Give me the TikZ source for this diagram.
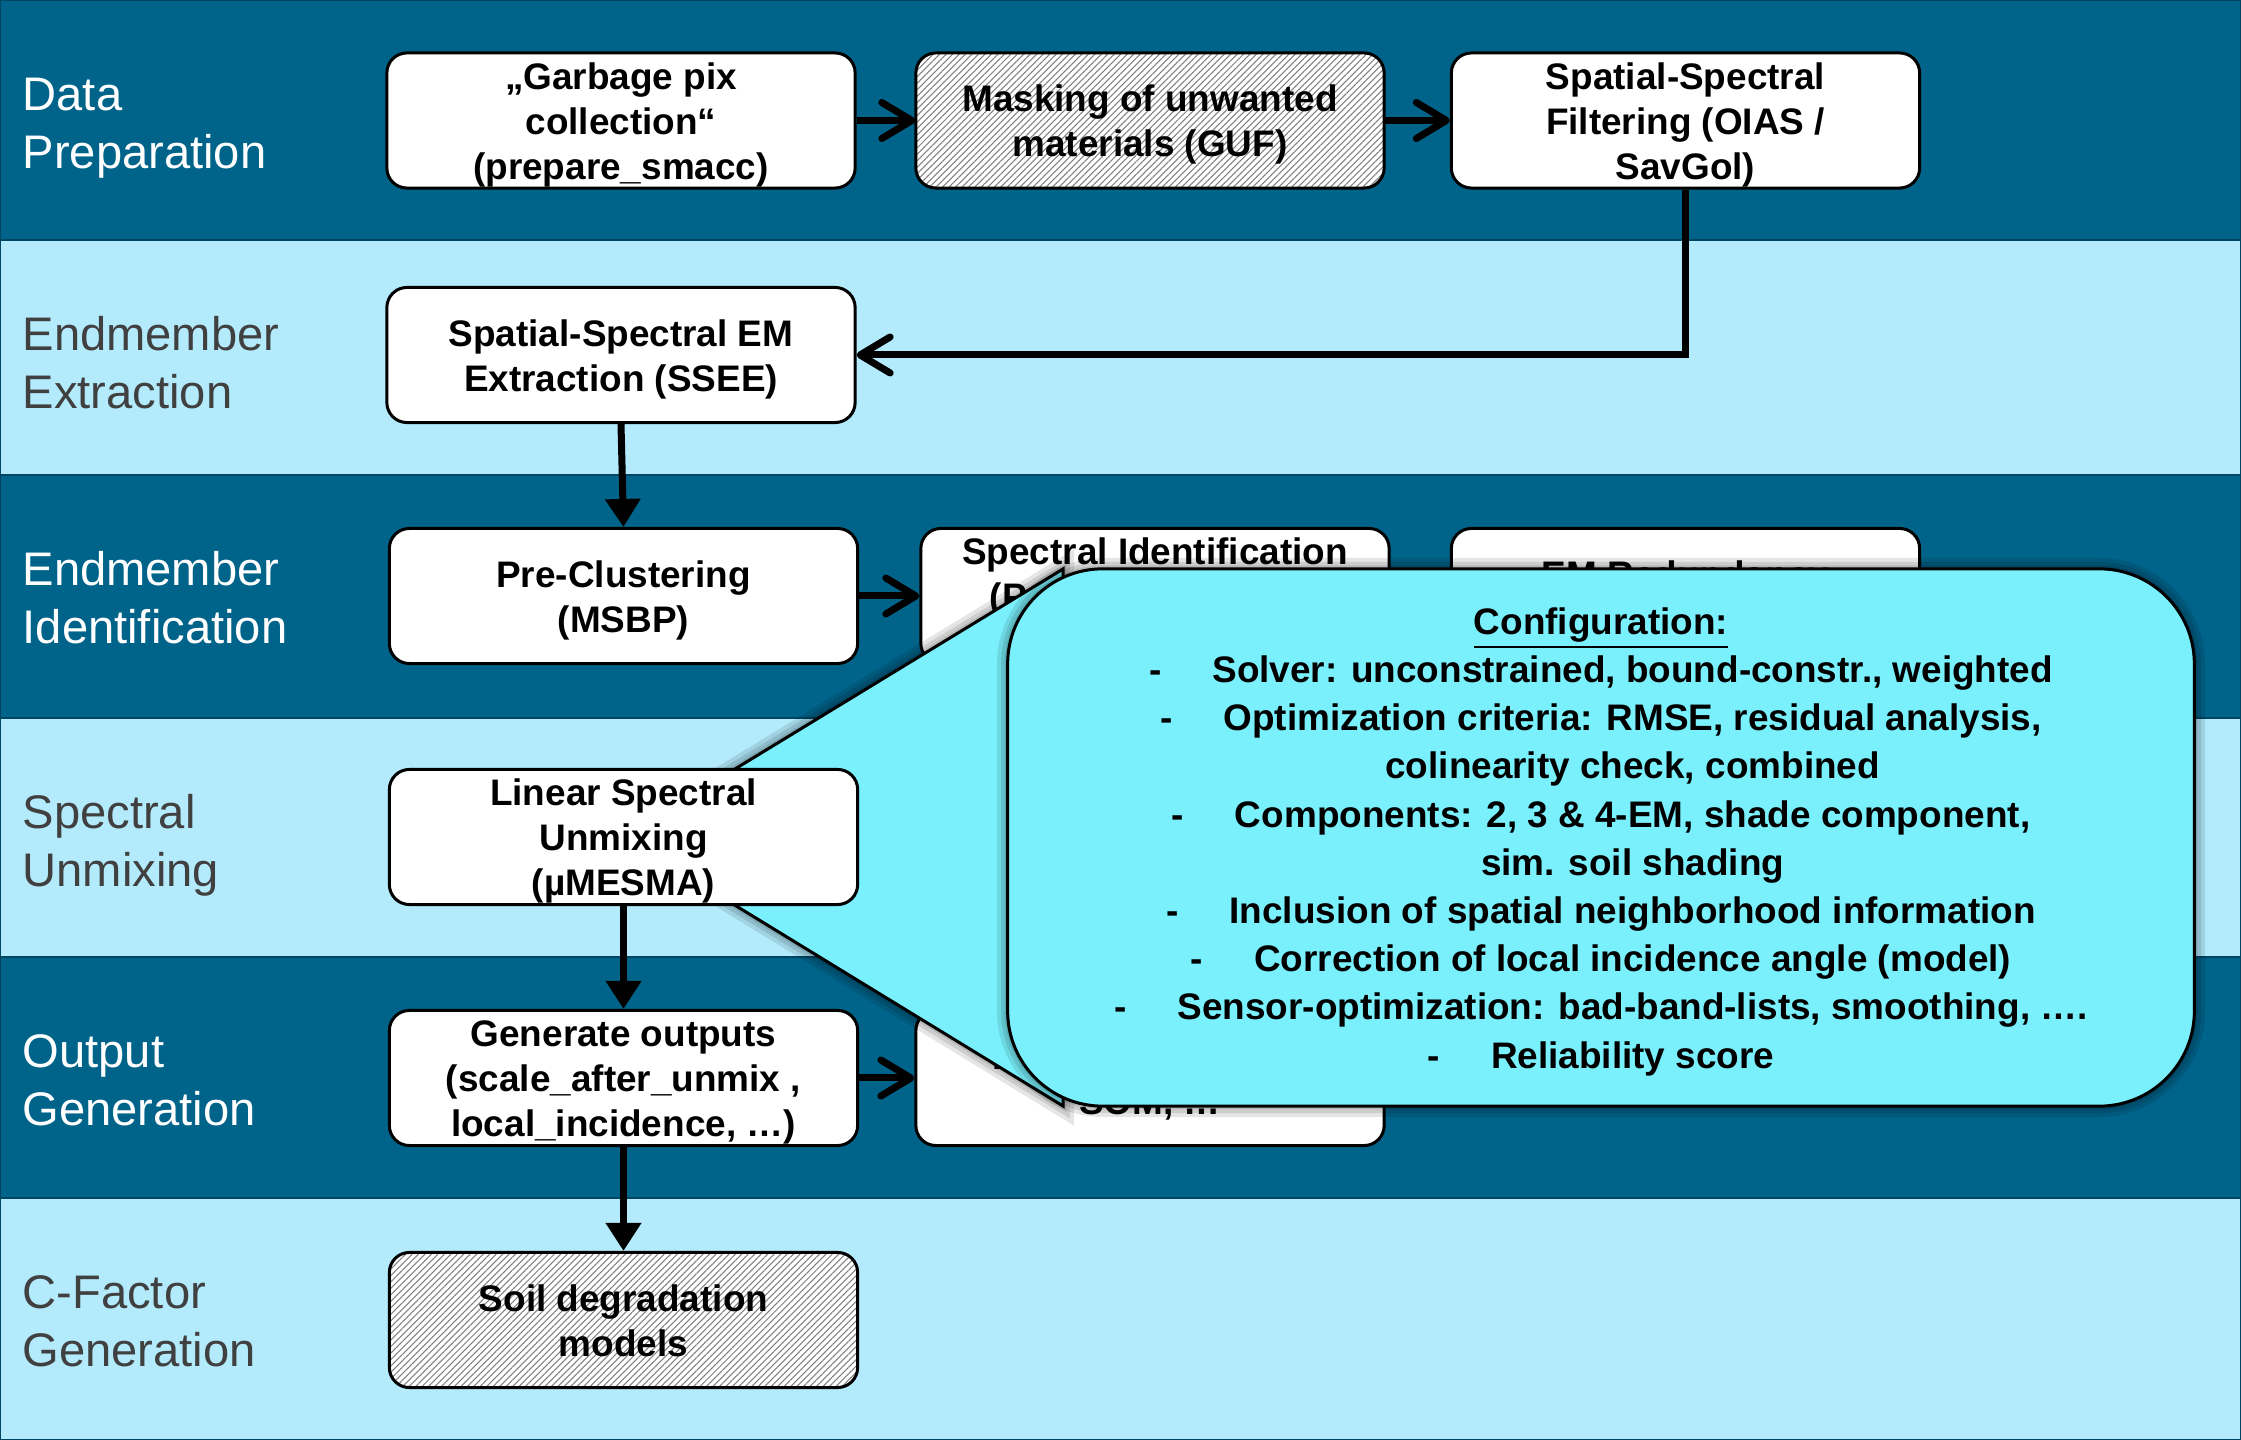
\documentclass[tikz,border=0pt]{standalone}
\usepackage{fontspec}
\setmainfont{Liberation Sans}
\usetikzlibrary{arrows.meta,patterns.meta}

\definecolor{banddark}{RGB}{0,99,137}
\definecolor{bandlight}{RGB}{179,234,252}
\definecolor{bandline}{RGB}{0,70,98}
\definecolor{labelgray}{RGB}{64,64,64}
\definecolor{calloutfill}{RGB}{122,240,252}

% configuration bullet lines: dash, gap, text; continuation lines keep the indent
\newcommand\cfgitem[1]{-\hspace{0.51cm}#1}
\newcommand\cfgcont[1]{\phantom{-}\hspace{0.51cm}#1}
% fixed first-line height and last-line depth, so box texts sit alike
\newcommand\fs{\rule{0pt}{10.1pt}}
\newcommand\ls{\rule[-2.4pt]{0pt}{0pt}}

\pgfdeclarelayer{front}
\pgfsetlayers{main,front}

\begin{document}
\begin{tikzpicture}[x=0.01cm, y=-0.01cm,
  band/.style={draw=bandline, line width=0.025cm},
  lane/.style={anchor=west, align=left, inner sep=0pt,
    font=\fontsize{13.4}{16.5}\selectfont},
  box/.style={draw=black, line width=0.03cm, fill=white, rounded corners=0.2cm,
    minimum width=4.68cm, minimum height=1.35cm, align=center, inner sep=0pt,
    font=\bfseries\fontsize{10.5}{12.8}\selectfont},
  hatched/.style={box, preaction={fill=white},
    pattern={Lines[angle=45,distance=1.3pt,line width=0.3pt]}, pattern color=black!50},
  flow/.style={line width=0.07cm},
  barb/.style={flow, -{Straight Barb[round,length=0.3cm,width=0.36cm]}},
  tri/.style={flow, -{Triangle[length=0.28cm,width=0.34cm]}},
  glow/.style={draw=black, draw opacity=0.1, line width=#1},
  callout/.style={draw=black, line width=0.03cm, fill=calloutfill}
]
\useasboundingbox (0,0) rectangle (2241,1440);

% swim lanes
\draw[band, fill=banddark]  (0,0)    rectangle (2241,240);
\draw[band, fill=bandlight] (0,240)  rectangle (2241,475);
\draw[band, fill=banddark]  (0,475)  rectangle (2241,718);
\draw[band, fill=bandlight] (0,718)  rectangle (2241,957);
\draw[band, fill=banddark]  (0,957)  rectangle (2241,1198);
\draw[band, fill=bandlight] (0,1198) rectangle (2241,1440);

\node[lane, text=white]     (lab1) at (22,128)  {\strut Data\\\strut Preparation};
\node[lane, text=labelgray] (lab2) at (22,368)  {\strut Endmember\\\strut Extraction};
\node[lane, text=white]     (lab3) at (22,603)  {\strut Endmember\\\strut Identification};
\node[lane, text=labelgray] (lab4) at (22,846)  {\strut Spectral\\\strut Unmixing};
\node[lane, text=white]     (lab5) at (22,1085) {\strut Output\\\strut Generation};
\node[lane, text=labelgray] (lab6) at (22,1326) {\strut C-Factor\\\strut Generation};

% process steps
\node[box]     (gp)   at (621,120.5)  {\fs„Garbage pix\\collection“\\(prepare\_smacc)\ls};
\node[hatched] (mask) at (1150,120.5) {\fs Masking of unwanted\\materials (GUF)\ls};
\node[box]     (spf)  at (1685.5,120.5) {\fs Spatial-Spectral\\Filtering (OIAS /\\SavGol)\ls};
\node[box]     (ssee) at (621,355)    {\fs Spatial-Spectral EM\\Extraction (SSEE)\ls};
\node[box]     (pre)  at (623.5,596)  {\fs Pre-Clustering\\(MSBP)\ls};
\node[box]     (sid)  at (1155,596)   {\fs Spectral Identification\\\makebox[3.3cm][l]{(P}\\\ls};
\node[box]     (emr)  at (1685.5,596) {\fs EM Redundancy\\\ls};
\node[box]     (gen)  at (623.5,1078) {\fs Generate outputs\\(scale\_after\_unmix ,\\local\_incidence, …)\ls};
\node[box]     (out)  at (1150,1078)  {\fs\makebox[3.14cm][l]{F}\\SOM, …\ls};
\node[hatched] (soil) at (623.5,1320) {\fs Soil degradation\\models\ls};

% the unmixing step sits above the callout wedge
\coordinate (lsuc) at (623.5,837);
\begin{pgfonlayer}{front}
\node[box] (lsu) at (lsuc) {\fs Linear Spectral\\Unmixing\\(µMESMA)\ls};
\draw[tri] (lsu.south) -- (gen.north);
\end{pgfonlayer}

% connectors
\draw[barb] (gp) -- (mask);
\draw[barb] (mask) -- (spf);
\draw[barb] (spf.south) |- (ssee.east);
\draw[tri]  (ssee.south) -- (pre.north);
\draw[barb] (pre) -- (sid);
\draw[barb] (gen) -- (out);
\draw[tri]  (gen.south) -- (soil.north);

% configuration callout pointing at the unmixing step, with a soft halo
\coordinate (wtop) at (1063,569);
\coordinate (wbot) at (1063,1106);
\coordinate (ctl) at (1008,569);
\coordinate (cbr) at (2194,1106);
\draw[glow=0.22cm] (lsuc) -- (wtop) -- (wbot) -- cycle;
\draw[glow=0.14cm] (lsuc) -- (wtop) -- (wbot) -- cycle;
\draw[glow=0.07cm] (lsuc) -- (wtop) -- (wbot) -- cycle;
\draw[callout] (lsuc) -- (wtop) -- (wbot) -- cycle;
\draw[glow=0.22cm, rounded corners=0.95cm] (ctl) rectangle (cbr);
\draw[glow=0.14cm, rounded corners=0.95cm] (ctl) rectangle (cbr);
\draw[glow=0.07cm, rounded corners=0.95cm] (ctl) rectangle (cbr);
\node[callout, rounded corners=0.95cm, minimum width=11.86cm, minimum height=5.37cm,
  align=center, inner sep=0pt, font=\bfseries\fontsize{10.5}{13.7}\selectfont]
  (cfg) at (1601,837.5) {\rule{0pt}{10pt}\underline{Configuration:}\\
  \cfgitem{Solver: unconstrained, bound-constr., weighted}\\
  \cfgitem{Optimization criteria: RMSE, residual analysis,}\\
  \cfgcont{colinearity check, combined}\\
  \cfgitem{Components: 2, 3 \& 4-EM, shade component,}\\
  \cfgcont{sim. soil shading}\\
  \cfgitem{Inclusion of spatial neighborhood information}\\
  \cfgitem{Correction of local incidence angle (model)}\\
  \cfgitem{Sensor-optimization: bad-band-lists, smoothing, ….}\\
  \cfgitem{Reliability score}};
\end{tikzpicture}
\end{document}
